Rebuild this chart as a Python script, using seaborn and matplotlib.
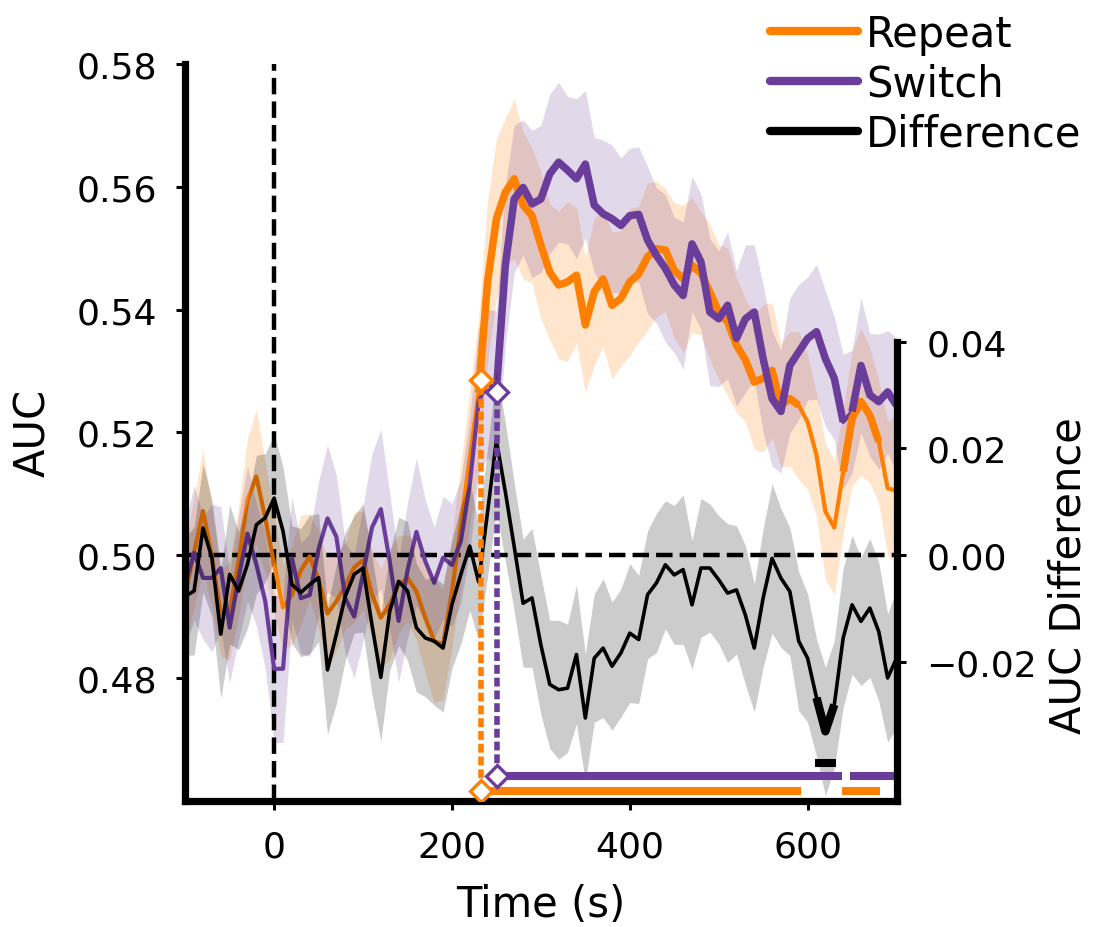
import numpy as np
import pandas as pd
import seaborn as sns
import matplotlib.pyplot as plt
from matplotlib.lines import Line2D

# time grid (s) and mean decoding curves
time = np.arange(-100, 701, 10)

repeat_auc = [
    0.4935, 0.5005, 0.5072, 0.4998, 0.4905, 0.4910, 0.4990, 0.5090, 0.5128, 0.5060,
    0.4985, 0.4915, 0.4935, 0.4975, 0.4998, 0.4960, 0.4905, 0.4925, 0.4950, 0.4980,
    0.4992, 0.4936, 0.4898, 0.4920, 0.4952, 0.4963, 0.4941, 0.4898, 0.4860, 0.4855,
    0.4941, 0.5050, 0.5158, 0.5265, 0.5445, 0.5548, 0.5591, 0.5613, 0.5570, 0.5553,
    0.5505, 0.5461, 0.5440, 0.5445, 0.5456, 0.5375, 0.5429, 0.5450, 0.5407, 0.5418,
    0.5445, 0.5458, 0.5486, 0.5499, 0.5497, 0.5464, 0.5450, 0.5472, 0.5459, 0.5429,
    0.5396, 0.5380, 0.5342, 0.5318, 0.5282, 0.5288, 0.5301, 0.5244, 0.5255, 0.5244,
    0.5217, 0.5163, 0.5071, 0.5045, 0.5136, 0.5223, 0.5250, 0.5228, 0.5185, 0.5109,
    0.5105,
]
switch_auc = [
    0.4952, 0.5004, 0.4963, 0.4963, 0.4979, 0.4882, 0.4963, 0.5035, 0.4985, 0.4925,
    0.4815, 0.4815, 0.4995, 0.4930, 0.4935, 0.5010, 0.5060, 0.5030, 0.4930, 0.4900,
    0.4970, 0.5045, 0.5075, 0.4990, 0.4893, 0.4975, 0.5038, 0.4990, 0.4955, 0.4996,
    0.4984, 0.5023, 0.5115, 0.5250, 0.5280, 0.5268, 0.5472, 0.5580, 0.5599, 0.5572,
    0.5580, 0.5621, 0.5640, 0.5627, 0.5613, 0.5637, 0.5570, 0.5556, 0.5548, 0.5537,
    0.5553, 0.5555, 0.5513, 0.5488, 0.5467, 0.5440, 0.5423, 0.5507, 0.5478, 0.5396,
    0.5385, 0.5407, 0.5353, 0.5385, 0.5396, 0.5320, 0.5255, 0.5234, 0.5309, 0.5331,
    0.5353, 0.5364, 0.5320, 0.5288, 0.5217, 0.5234, 0.5309, 0.5261, 0.5250, 0.5266,
    0.5244,
]
diff_auc = [
    -0.0077, -0.0067, 0.0051, -0.0005, -0.0148, -0.0036, -0.0067, -0.0017, 0.0057, 0.0070,
    0.0107, 0.0045, -0.0055, -0.0070, -0.0055, -0.0042, -0.0215, -0.0148, -0.0077, -0.0036,
    -0.0024, -0.0130, -0.0229, -0.0105, -0.0049, -0.0067, -0.0136, -0.0155, -0.0161, -0.0174,
    -0.0092, -0.0036, 0.0017, -0.0050, 0.0080, 0.0215, 0.0119, 0.0016, -0.0090, -0.0080,
    -0.0168, -0.0242, -0.0252, -0.0249, -0.0186, -0.0305, -0.0193, -0.0174, -0.0208, -0.0183,
    -0.0146, -0.0158, -0.0074, -0.0052, -0.0018, -0.0037, -0.0027, -0.0093, -0.0024, -0.0024,
    -0.0046, -0.0071, -0.0065, -0.0112, -0.0174, -0.0080, -0.0006, -0.0043, -0.0068, -0.0161,
    -0.0193, -0.0267, -0.0330, -0.0280, -0.0155, -0.0093, -0.0124, -0.0099, -0.0143, -0.0230,
    -0.0193,
]

# half widths of the shaded bands
repeat_ci = [
    0.008, 0.009, 0.010, 0.008, 0.007, 0.008, 0.009, 0.010, 0.011, 0.009,
    0.008, 0.007, 0.008, 0.009, 0.007, 0.008, 0.009, 0.008, 0.007, 0.009,
    0.008, 0.007, 0.008, 0.009, 0.008, 0.007, 0.008, 0.009, 0.010, 0.009,
    0.009, 0.010, 0.011, 0.012, 0.013, 0.013, 0.012, 0.013, 0.012, 0.011,
    0.012, 0.011, 0.012, 0.013, 0.011, 0.011, 0.012, 0.011, 0.012, 0.011,
    0.012, 0.011, 0.012, 0.011, 0.010, 0.011, 0.012, 0.011, 0.010, 0.011,
    0.011, 0.012, 0.011, 0.010, 0.011, 0.012, 0.011, 0.010, 0.011, 0.012,
    0.011, 0.010, 0.011, 0.011, 0.010, 0.011, 0.012, 0.011, 0.010, 0.011,
    0.012,
]
switch_ci = [
    0.010, 0.011, 0.010, 0.012, 0.010, 0.009, 0.010, 0.011, 0.010, 0.011,
    0.012, 0.012, 0.010, 0.009, 0.010, 0.011, 0.012, 0.010, 0.009, 0.010,
    0.011, 0.012, 0.013, 0.011, 0.010, 0.011, 0.012, 0.010, 0.009, 0.010,
    0.010, 0.010, 0.011, 0.012, 0.012, 0.013, 0.013, 0.012, 0.011, 0.012,
    0.012, 0.013, 0.013, 0.012, 0.013, 0.012, 0.011, 0.012, 0.012, 0.011,
    0.011, 0.011, 0.012, 0.011, 0.012, 0.011, 0.012, 0.011, 0.011, 0.012,
    0.011, 0.012, 0.011, 0.012, 0.011, 0.012, 0.011, 0.010, 0.011, 0.011,
    0.010, 0.011, 0.011, 0.010, 0.011, 0.010, 0.011, 0.010, 0.011, 0.010,
    0.011,
]
diff_ci = [
    0.011, 0.012, 0.012, 0.011, 0.012, 0.013, 0.011, 0.012, 0.013, 0.012,
    0.012, 0.012, 0.011, 0.012, 0.013, 0.012, 0.012, 0.013, 0.012, 0.011,
    0.012, 0.013, 0.012, 0.011, 0.012, 0.013, 0.012, 0.011, 0.012, 0.012,
    0.012, 0.013, 0.012, 0.011, 0.012, 0.013, 0.013, 0.012, 0.012, 0.013,
    0.013, 0.012, 0.013, 0.012, 0.013, 0.012, 0.012, 0.013, 0.012, 0.012,
    0.013, 0.012, 0.012, 0.013, 0.012, 0.013, 0.014, 0.012, 0.013, 0.012,
    0.012, 0.013, 0.012, 0.013, 0.012, 0.013, 0.014, 0.013, 0.012, 0.013,
    0.012, 0.011, 0.012, 0.012, 0.013, 0.013, 0.012, 0.013, 0.013, 0.012,
    0.013,
]

# significant clusters (s) and onset markers
repeat_sig = [(233, 592), (639, 681)]
switch_sig = [(251, 639), (648, 700)]
diff_sig = [(608, 632)]
repeat_onset = (233, 0.5285)
switch_onset = (251, 0.5265)

ORANGE = "#ff7f00"
PURPLE = "#6a3d9a"

sns.set_style("ticks", {"axes.edgecolor": "black", "text.color": "black",
                        "axes.labelcolor": "black", "xtick.color": "black",
                        "ytick.color": "black"})
plt.rcParams["font.family"] = ["DejaVu Sans"]

df = pd.DataFrame({
    "time": np.concatenate([time, time]),
    "auc": repeat_auc + switch_auc,
    "condition": ["Repeat"] * len(time) + ["Switch"] * len(time),
})

fig = plt.figure(figsize=(5.48, 4.64), dpi=200)
ax = fig.add_axes([0.169, 0.136, 0.649, 0.794])

rep = np.array(repeat_auc)
swi = np.array(switch_auc)
dif = np.array(diff_auc)

ax.fill_between(time, rep - np.array(repeat_ci), rep + np.array(repeat_ci),
                color=ORANGE, alpha=0.2, lw=0)
ax.fill_between(time, swi - np.array(switch_ci), swi + np.array(switch_ci),
                color=PURPLE, alpha=0.2, lw=0)
ax.axvline(0, color="k", ls="--", lw=1.6, zorder=1.5)
ax.axhline(0.5, color="k", ls="--", lw=1.6, zorder=1.5)

sns.lineplot(data=df, x="time", y="auc", hue="condition",
             palette={"Repeat": ORANGE, "Switch": PURPLE},
             linewidth=1.5, legend=False, errorbar=None, ax=ax)


def thick_parts(axis, vals, intervals, color, lw):
    for a, b in intervals:
        sel = (time >= a - 5) & (time <= b + 5)
        axis.plot(time[sel], vals[sel], color=color, lw=lw, solid_capstyle="butt")


thick_parts(ax, rep, repeat_sig, ORANGE, 2.7)
thick_parts(ax, swi, switch_sig, PURPLE, 2.7)

ax.set_xlim(-100, 700)
ax.set_ylim(0.46, 0.58)
ax.set_xticks([0, 200, 400, 600])
ax.set_yticks([0.48, 0.50, 0.52, 0.54, 0.56, 0.58])
ax.set_xlabel("Time (s)", fontsize=15, labelpad=7)
ax.set_ylabel("AUC", fontsize=15, labelpad=8)
for side in ["top", "right"]:
    ax.spines[side].set_visible(False)
for side in ["left", "bottom"]:
    ax.spines[side].set_linewidth(2.6)
ax.tick_params(labelsize=13, width=1.1, length=3.2, pad=7)

# difference on a twin axis
ax2 = ax.twinx()
ax2.fill_between(time, dif - np.array(diff_ci), dif + np.array(diff_ci),
                 color="k", alpha=0.2, lw=0)
sns.lineplot(x=time, y=dif, color="k", linewidth=1.3, errorbar=None, ax=ax2)
thick_parts(ax2, dif, diff_sig, "k", 3.0)

# onset markers, dashed drops and significance bars (in AUC units)
bar_y = {"Repeat": 0.4616, "Switch": 0.4641, "Difference": 0.4662}
for (t0, v0), col, key in [(repeat_onset, ORANGE, "Repeat"), (switch_onset, PURPLE, "Switch")]:
    ax2.plot([t0, t0], [bar_y[key], v0], color=col, lw=2.0, ls=(0, (1.6, 0.7)),
             transform=ax.transData)
for key, ints, col in [("Repeat", repeat_sig, ORANGE), ("Switch", switch_sig, PURPLE),
                       ("Difference", diff_sig, "k")]:
    for a, b in ints:
        ax2.plot([a, b], [bar_y[key], bar_y[key]], color=col, lw=2.9,
                 solid_capstyle="butt", transform=ax.transData)
for (t0, v0), col, key in [(repeat_onset, ORANGE, "Repeat"), (switch_onset, PURPLE, "Switch")]:
    ax2.plot([t0, t0], [v0, bar_y[key]], ls="none", marker="D", ms=5.5,
             mfc="white", mec=col, mew=1.2, transform=ax.transData, zorder=5)

ax2.set_xlim(-100, 700)
ax2.set_ylim(-0.046, 0.092)
ax2.set_yticks([-0.02, 0.0, 0.02, 0.04])
ax2.set_yticklabels(["\u22120.02", "0.00", "0.02", "0.04"])
ax2.set_ylabel("AUC Difference", fontsize=15)
ax2.yaxis.set_label_coords(1.212, 0.307)
for side in ["top", "left", "bottom"]:
    ax2.spines[side].set_visible(False)
ax2.spines["right"].set_linewidth(2.6)
ax2.spines["right"].set_bounds(-0.046, 0.04)
ax2.tick_params(labelsize=13, width=1.1, length=3.2, pad=7.5)

handles = [Line2D([], [], color=ORANGE, lw=3),
           Line2D([], [], color=PURPLE, lw=3),
           Line2D([], [], color="k", lw=3)]
fig.legend(handles, ["Repeat", "Switch", "Difference"], loc="upper left",
           bbox_to_anchor=(770 / 1096, 1 - 14 / 928), frameon=False, fontsize=15,
           handlelength=2.1, handletextpad=0.2, labelspacing=0.19,
           borderpad=0, borderaxespad=0)

fig.savefig("out.png", dpi=200)
